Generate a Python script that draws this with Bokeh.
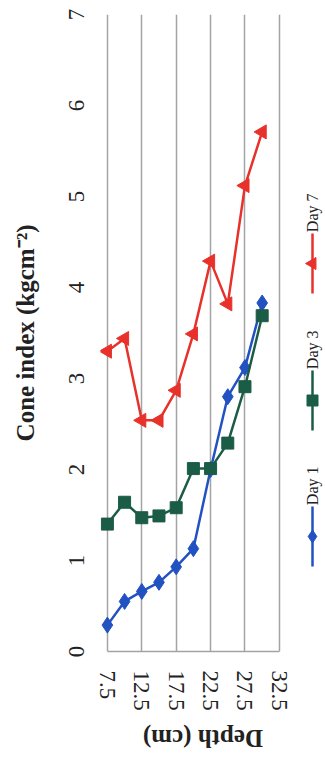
import math
from bokeh.plotting import figure
from bokeh.layouts import column
from bokeh.models import Range1d, FixedTicker, ColumnDataSource
from bokeh.core.properties import value
from bokeh.embed import file_html
from bokeh.resources import INLINE

# ---- data ----
depth = [7.5, 10, 12.5, 15, 17.5, 20, 22.5, 25, 27.5, 30]
day1 = [0.29, 0.55, 0.66, 0.76, 0.93, 1.13, 2.00, 2.80, 3.12, 3.83]
day3 = [1.40, 1.64, 1.47, 1.49, 1.58, 2.01, 2.01, 2.29, 2.91, 3.69]
day7 = [3.30, 3.44, 2.54, 2.54, 2.87, 3.49, 4.29, 3.82, 5.12, 5.71]
depth_ticks = [7.5, 12.5, 17.5, 22.5, 27.5, 32.5]
ci_ticks = [0, 1, 2, 3, 4, 5, 6, 7]
series_names = ["Day 1", "Day 3", "Day 7"]
x_title = "Depth (cm)"
y_title = "Cone index (kgcm\u207b\u00b2)"

C1, C3, C7 = "#2252c2", "#1b5c47", "#e8312b"
GRID = "#a3a3a3"
TXT = "#222222"
SERIF = "Liberation Serif"

W = 325
H_MAIN, H_TITLE = 715, 48
LEFT, TOP = 100, 14
FRAME_BOTTOM = 651
BOTTOM = H_MAIN - FRAME_BOTTOM
FRAME_W = W - LEFT
FRAME_H = FRAME_BOTTOM - TOP
PXX = 172 / 25.0          # px per cm of depth
PXY = FRAME_H / 7.0       # px per unit of cone index
X0 = 6.5
X1 = X0 + FRAME_W / PXX


def data_y(page_y):
    return (FRAME_BOTTOM - page_y) / PXY


p = figure(width=W, height=H_MAIN, output_backend="svg", toolbar_location=None,
           x_range=Range1d(X0, X1), y_range=Range1d(0, 7),
           min_border_left=LEFT, min_border_right=0, min_border_top=TOP,
           min_border_bottom=BOTTOM)
p.outline_line_color = None
p.background_fill_color = "white"

# axes
xa = p.xaxis[0]
xa.ticker = FixedTicker(ticks=depth_ticks)
xa.major_label_overrides = {t: f"{t:g}" for t in depth_ticks}
xa.major_label_orientation = "vertical"
xa.major_tick_in = 0
xa.major_tick_out = 0
xa.minor_tick_line_color = None
xa.axis_line_color = GRID
xa.axis_line_width = 1.5
xa.bounds = (7.5, 32.5)
xa.major_label_text_font = SERIF
xa.major_label_text_font_size = "23px"
xa.major_label_text_color = TXT
xa.major_label_standoff = 19

ya = p.yaxis[0]
ya.ticker = FixedTicker(ticks=ci_ticks)
ya.major_label_orientation = "vertical"
ya.major_tick_in = 0
ya.major_tick_out = 0
ya.minor_tick_line_color = None
ya.axis_line_color = None
ya.major_label_text_font = SERIF
ya.major_label_text_font_size = "23px"
ya.major_label_text_color = TXT
ya.major_label_standoff = 17
ya.axis_label = y_title
ya.axis_label_text_font = SERIF
ya.axis_label_text_font_style = "bold"
ya.axis_label_text_font_size = "25px"
ya.axis_label_text_color = TXT
ya.axis_label_standoff = 27

p.xgrid.grid_line_color = GRID
p.xgrid.grid_line_width = 1.5
p.ygrid.grid_line_color = None

src = ColumnDataSource(dict(depth=depth, d1=day1, d3=day3, d7=day7))
p.line("depth", "d1", source=src, color=C1, line_width=2.5)
p.scatter("depth", "d1", source=src, marker="diamond", size=16, color=C1)
p.line("depth", "d3", source=src, color=C3, line_width=2.5)
p.scatter("depth", "d3", source=src, marker="square", size=12, color=C3)
p.line("depth", "d7", source=src, color=C7, line_width=2.5)
p.scatter("depth", "d7", source=src, marker="triangle", size=14,
          angle=math.pi / 2, color=C7)

# ---- rotated legend, right of the grid ----
leg_colors = [C1, C3, C7]
leg_markers = ["diamond", "square", "triangle"]
leg_msize = [13, 11, 12]
leg_top = [466, 330, 193]   # page y of the end of each legend text
xc = X1 - 13 / PXX
for name, col, mk, ms, top in zip(series_names, leg_colors, leg_markers, leg_msize, leg_top):
    p.text(x=[xc], y=[data_y(top)], text=[name], angle=math.pi / 2,
           text_align="right", text_baseline="middle",
           text_font=value(SERIF), text_font_size="16px", text_color=TXT)
    ya0 = data_y(top + 40)
    ya1 = data_y(top + 100)
    p.line(x=[xc, xc], y=[ya0, ya1], color=col, line_width=2.5)
    p.scatter(x=[xc], y=[(ya0 + ya1) / 2], marker=mk, size=ms, color=col,
              angle=math.pi / 2 if mk == "triangle" else 0)

# ---- upside-down depth title in a strip below ----
t = figure(width=W, height=H_TITLE, output_backend="svg", toolbar_location=None,
           x_range=Range1d(0, W), y_range=Range1d(0, H_TITLE),
           min_border=0, x_axis_location=None, y_axis_location=None)
t.outline_line_color = None
t.xgrid.visible = False
t.ygrid.visible = False
t.text(x=[148], y=[H_TITLE - (738 - H_MAIN)], text=[x_title], angle=math.pi,
       text_align="center", text_baseline="middle",
       text_font=value(SERIF), text_font_style="bold",
       text_font_size="25px", text_color=TXT)

open("out.html", "w").write(file_html(column(p, t), INLINE))
